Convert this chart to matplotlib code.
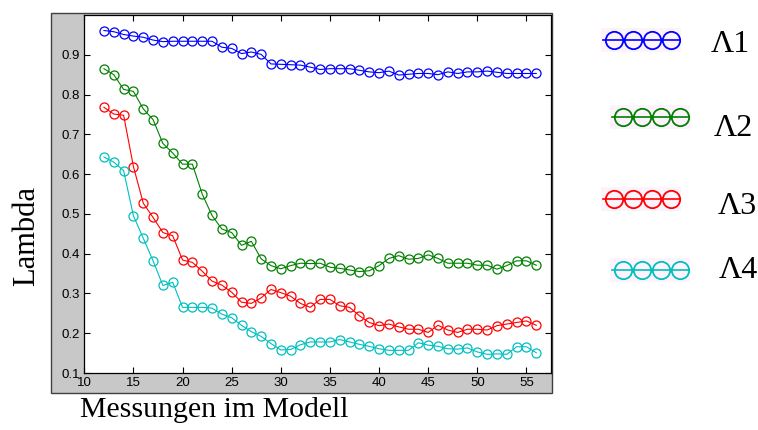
import numpy as np
import matplotlib
matplotlib.use("Agg")
import matplotlib.pyplot as plt
from matplotlib.patches import Rectangle


# Messungen (x) and the four lambda series
messungen = list(range(12, 57))

lambda1 = [0.961, 0.958, 0.951, 0.947, 0.944, 0.937, 0.933, 0.934, 0.934, 0.934,
           0.934, 0.934, 0.919, 0.916, 0.903, 0.907, 0.901, 0.877, 0.876, 0.875,
           0.874, 0.869, 0.863, 0.865, 0.865, 0.865, 0.861, 0.857, 0.855, 0.859,
           0.849, 0.851, 0.853, 0.853, 0.850, 0.857, 0.853, 0.857, 0.857, 0.859,
           0.856, 0.853, 0.853, 0.853, 0.853]

lambda2 = [0.865, 0.850, 0.813, 0.808, 0.764, 0.737, 0.677, 0.653, 0.625, 0.625,
           0.550, 0.496, 0.462, 0.453, 0.421, 0.431, 0.387, 0.370, 0.362, 0.370,
           0.376, 0.375, 0.376, 0.366, 0.363, 0.359, 0.355, 0.357, 0.370, 0.388,
           0.395, 0.386, 0.388, 0.397, 0.388, 0.376, 0.376, 0.376, 0.371, 0.371,
           0.361, 0.370, 0.382, 0.382, 0.371]

lambda3 = [0.768, 0.751, 0.748, 0.619, 0.527, 0.491, 0.453, 0.445, 0.384, 0.378,
           0.356, 0.331, 0.321, 0.303, 0.278, 0.275, 0.289, 0.310, 0.302, 0.293,
           0.275, 0.265, 0.285, 0.285, 0.269, 0.265, 0.244, 0.227, 0.219, 0.223,
           0.216, 0.210, 0.210, 0.202, 0.220, 0.208, 0.202, 0.210, 0.210, 0.208,
           0.219, 0.223, 0.227, 0.231, 0.220]

lambda4 = [0.643, 0.630, 0.609, 0.495, 0.439, 0.382, 0.320, 0.328, 0.265, 0.265,
           0.265, 0.263, 0.248, 0.239, 0.220, 0.204, 0.192, 0.174, 0.158, 0.159,
           0.171, 0.178, 0.178, 0.178, 0.184, 0.178, 0.172, 0.167, 0.161, 0.157,
           0.157, 0.157, 0.176, 0.170, 0.167, 0.161, 0.160, 0.163, 0.153, 0.147,
           0.148, 0.147, 0.166, 0.166, 0.151]

series = [lambda1, lambda2, lambda3, lambda4]
names = ["\u039b1", "\u039b2", "\u039b3", "\u039b4"]
colors = ["#0000ff", "#008000", "#ff0000", "#00bfbf"]

xticks = [10, 15, 20, 25, 30, 35, 40, 45, 50, 55]
yticks = [0.1, 0.2, 0.3, 0.4, 0.5, 0.6, 0.7, 0.8, 0.9]

W, H = 758, 430
fig = plt.figure(figsize=(W / 100, H / 100), dpi=100)
fig.patch.set_facecolor("white")

# grey matlab-style panel behind the axes
fig.patches.append(Rectangle((51 / W, 1 - 393 / H), (552 - 51) / W, (393 - 13) / H,
                             transform=fig.transFigure, facecolor="#c8c8c8",
                             edgecolor="#404040", linewidth=1, zorder=-10))

ax = fig.add_axes([84.3 / W, 1 - 373 / H, (551 - 84.3) / W, (373 - 15) / H], zorder=1)
ax.set_facecolor("white")
for s, c in zip(series, colors):
    ax.plot(messungen, s, color=c, linewidth=0.8, marker="o", markersize=6.5,
            markerfacecolor="none", markeredgecolor=c, markeredgewidth=0.9)

ax.set_xlim(10, 57.5)
ax.set_ylim(0.1, 1.0)
ax.set_xticks(xticks)
ax.set_yticks(yticks)
ax.set_yticklabels(["%.1f" % v for v in yticks])
ax.tick_params(direction="in", length=4, width=0.8, top=True, right=True,
               labelsize=9.5, colors="black", pad=3)
for lab in ax.get_xticklabels() + ax.get_yticklabels():
    lab.set_fontfamily("Liberation Sans")
for sp in ax.spines.values():
    sp.set_linewidth(0.9)

fig.text(214 / W, 1 - 410 / H, "Messungen im Modell", family="Liberation Serif",
         fontsize=21.5, ha="center", va="center")
fig.text(27 / W, 1 - 236 / H, "Lambda", family="Liberation Serif",
         fontsize=22, rotation=90, ha="center", va="center")

# legend drawn to the right, like pasted sample strips
leg = fig.add_axes([0, 0, 1, 1], zorder=5)
leg.set_xlim(0, W)
leg.set_ylim(H, 0)
leg.patch.set_alpha(0)
leg.axis("off")
sample_x0 = [603, 612, 603, 612]
sample_y = [40, 117, 199, 270]
label_x = [730, 733, 737, 738]
label_y = [44, 129, 206, 271]
for i in range(4):
    x0 = sample_x0[i]
    leg.add_patch(Rectangle((x0 - 2, sample_y[i] - 12), 80, 24,
                            facecolor="#fcf3fc", edgecolor="none"))
    px = [x0 + 11 + 19 * k for k in range(4)]
    leg.plot([x0, x0 + 77], [sample_y[i], sample_y[i]], color=colors[i], linewidth=1.2)
    leg.plot(px, [sample_y[i]] * 4, linestyle="none", marker="o", markersize=12.5,
             markerfacecolor="none", markeredgecolor=colors[i], markeredgewidth=1.3)
    leg.text(label_x[i], label_y[i], names[i], family="Liberation Serif",
             fontsize=23, ha="center", va="center")

fig.savefig("out.png", dpi=100)
